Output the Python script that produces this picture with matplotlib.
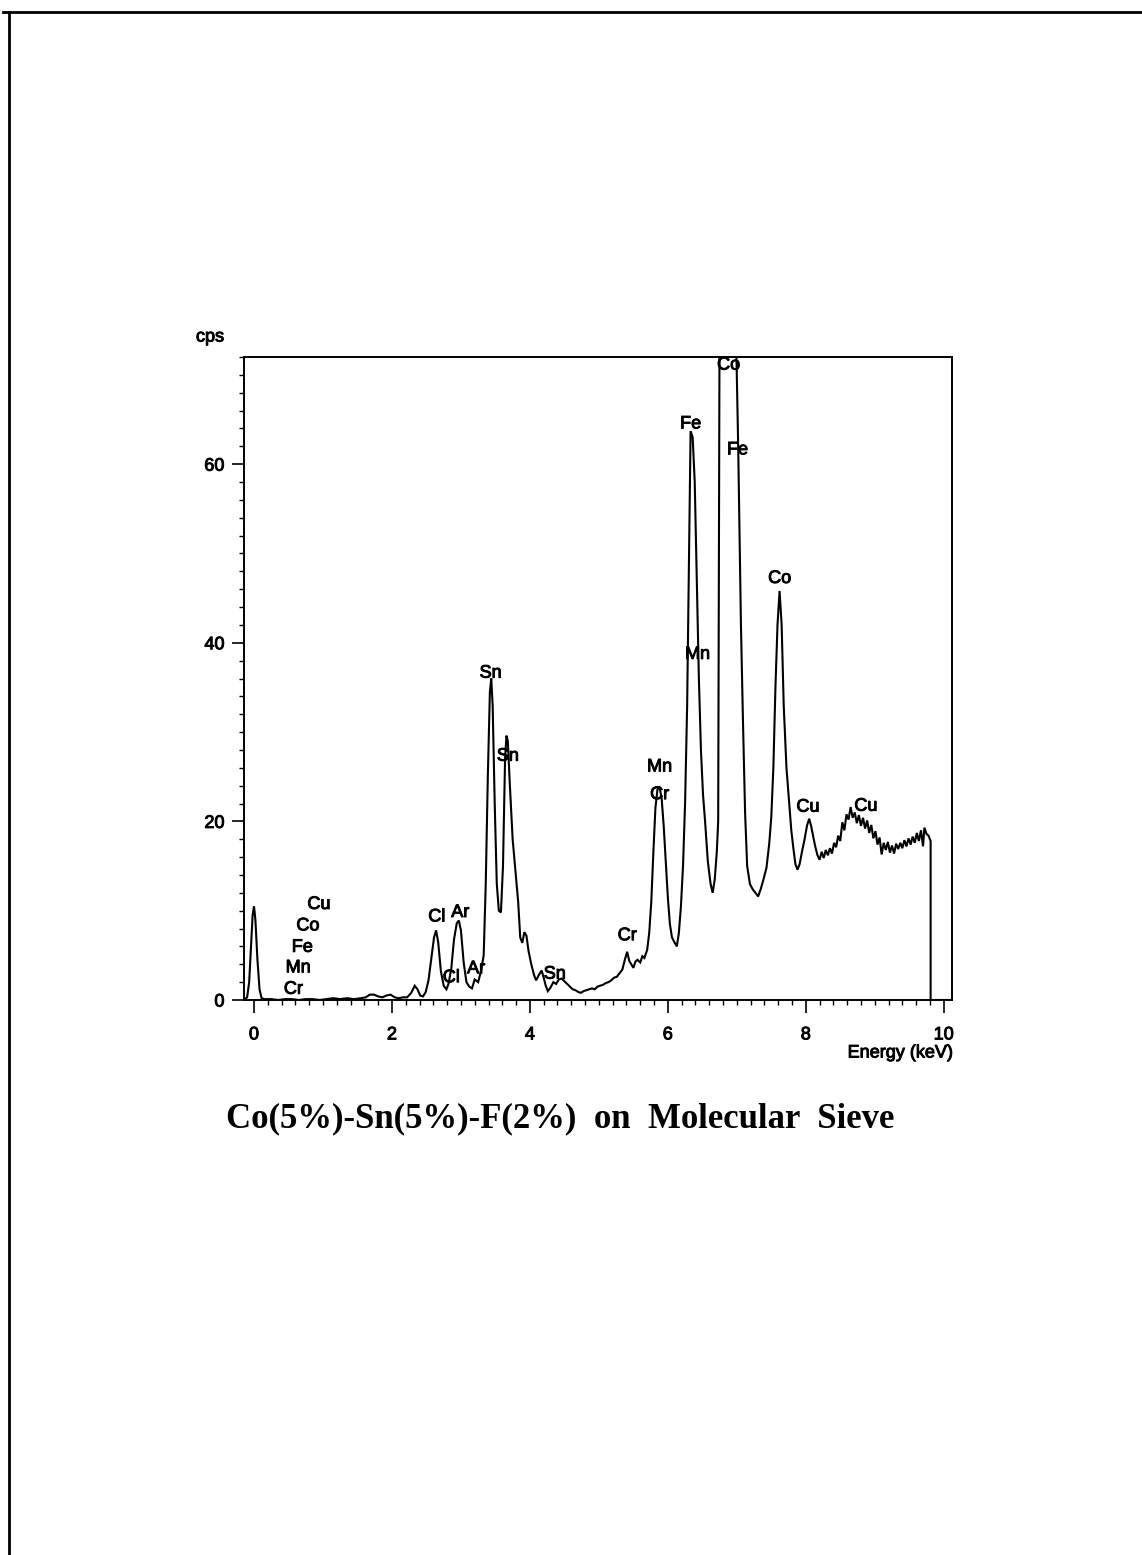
import matplotlib
matplotlib.use("Agg")
import matplotlib.pyplot as plt
import matplotlib.patheffects as pe
from matplotlib.lines import Line2D
from matplotlib.ticker import MultipleLocator

# EDS spectrum: energy (keV) and counts per second
energy_kev = [
    -0.15, -0.10, -0.07, -0.04, -0.02, 0.00, 0.02, 0.05, 0.08, 0.11,
    0.15, 0.25, 0.35, 0.45, 0.55, 0.65, 0.75, 0.85, 0.95, 1.05,
    1.15, 1.25, 1.35, 1.45, 1.55, 1.62, 1.68, 1.74, 1.80, 1.86,
    1.92, 1.98, 2.04, 2.10, 2.16, 2.22, 2.28, 2.33, 2.37, 2.41,
    2.45, 2.49, 2.53, 2.57, 2.61, 2.64, 2.67, 2.71, 2.75, 2.79,
    2.82, 2.86, 2.90, 2.94, 2.97, 3.00, 3.04, 3.08, 3.12, 3.16,
    3.20, 3.25, 3.29, 3.33, 3.36, 3.39, 3.42, 3.44, 3.46, 3.49,
    3.52, 3.55, 3.58, 3.61, 3.64, 3.66, 3.68, 3.71, 3.75, 3.79,
    3.83, 3.86, 3.89, 3.92, 3.95, 3.98, 4.02, 4.06, 4.09, 4.13,
    4.17, 4.20, 4.23, 4.26, 4.30, 4.34, 4.38, 4.42, 4.46, 4.50,
    4.54, 4.58, 4.62, 4.66, 4.70, 4.74, 4.78, 4.82, 4.86, 4.90,
    4.94, 4.98, 5.02, 5.06, 5.10, 5.14, 5.18, 5.22, 5.26, 5.30,
    5.34, 5.38, 5.41, 5.44, 5.47, 5.50, 5.53, 5.56, 5.60, 5.63,
    5.66, 5.70, 5.73, 5.76, 5.79, 5.82, 5.85, 5.88, 5.91, 5.94,
    5.97, 6.00, 6.03, 6.06, 6.10, 6.13, 6.16, 6.19, 6.22, 6.25,
    6.28, 6.31, 6.33, 6.36, 6.39, 6.42, 6.45, 6.48, 6.51, 6.54,
    6.58, 6.62, 6.65, 6.68, 6.71, 6.73, 6.75, 6.80, 6.88, 6.95,
    6.99, 7.02, 7.06, 7.09, 7.12, 7.15, 7.19, 7.23, 7.27, 7.31,
    7.35, 7.39, 7.43, 7.47, 7.50, 7.53, 7.56, 7.59, 7.62, 7.65,
    7.68, 7.72, 7.76, 7.79, 7.82, 7.85, 7.88, 7.91, 7.95, 7.98,
    8.02, 8.05, 8.08, 8.11, 8.14, 8.17, 8.20, 8.23, 8.26, 8.29,
    8.32, 8.35, 8.38, 8.41, 8.44, 8.47, 8.50, 8.53, 8.56, 8.59,
    8.62, 8.65, 8.68, 8.71, 8.74, 8.77, 8.80, 8.83, 8.86, 8.89,
    8.92, 8.95, 8.98, 9.01, 9.04, 9.07, 9.10, 9.13, 9.16, 9.19,
    9.22, 9.25, 9.28, 9.31, 9.34, 9.37, 9.40, 9.43, 9.46, 9.49,
    9.52, 9.55, 9.58, 9.61, 9.64, 9.67, 9.70, 9.72, 9.75, 9.78,
    9.81, 9.81, 10.12,
]
counts_cps = [
    0.0, 0.3, 2.0, 6.5, 9.5, 10.5, 9.0, 4.5, 1.2, 0.2,
    0.1, 0.1, 0.0, 0.1, 0.1, 0.0, 0.1, 0.1, 0.0, 0.1,
    0.2, 0.1, 0.2, 0.1, 0.2, 0.3, 0.6, 0.6, 0.4, 0.3,
    0.5, 0.6, 0.3, 0.2, 0.3, 0.3, 0.8, 1.6, 1.2, 0.5,
    0.4, 0.9, 2.2, 4.6, 7.0, 7.8, 6.5, 3.2, 1.6, 1.2,
    1.8, 3.5, 6.8, 8.6, 8.9, 7.8, 4.2, 2.0, 1.5, 1.3,
    2.3, 2.0, 3.2, 5.0, 13.0, 25.0, 34.5, 36.0, 33.0, 22.0,
    13.0, 10.0, 9.8, 15.0, 27.0, 29.6, 29.0, 24.0, 18.0, 14.5,
    11.0, 7.0, 6.4, 7.6, 7.2, 5.5, 4.0, 2.8, 2.2, 2.8,
    3.3, 2.5, 1.6, 1.0, 1.4, 2.0, 1.8, 2.3, 2.4, 2.1,
    1.8, 1.5, 1.2, 1.1, 0.9, 0.8, 1.0, 1.1, 1.2, 1.3,
    1.2, 1.5, 1.6, 1.7, 1.9, 2.0, 2.2, 2.5, 2.6, 3.0,
    3.4, 4.6, 5.4, 4.4, 4.0, 3.6, 4.3, 4.5, 4.2, 4.9,
    4.7, 5.6, 7.5, 11.0, 16.5, 21.5, 23.6, 23.8, 22.6, 19.5,
    15.5, 11.5, 8.5, 7.0, 6.4, 6.0, 7.5, 10.5, 15.0, 22.0,
    33.0, 52.0, 63.7, 63.0, 58.0, 47.0, 36.0, 28.0, 23.0, 20.0,
    15.5, 13.0, 12.0, 13.5, 16.6, 20.0, 76.0, 92.0, 100.0, 90.0,
    74.0, 62.0, 42.0, 31.0, 21.0, 15.0, 13.0, 12.4, 12.0, 11.6,
    12.5, 13.6, 14.8, 17.5, 20.5, 26.0, 35.0, 42.0, 45.8, 42.0,
    33.0, 26.0, 22.0, 19.0, 17.0, 15.2, 14.6, 15.2, 16.8, 17.9,
    19.6, 20.3, 19.4, 18.2, 17.1, 16.2, 15.7, 16.6, 15.9, 16.8,
    16.2, 17.0, 16.4, 17.6, 17.1, 18.4, 17.8, 19.9, 19.0, 20.8,
    20.2, 21.6, 20.4, 21.0, 19.8, 20.7, 19.5, 20.4, 19.2, 20.1,
    18.7, 19.6, 18.1, 18.9, 17.4, 18.2, 16.3, 17.6, 16.8, 17.7,
    16.5, 17.3, 16.4, 17.5, 16.9, 17.6, 17.0, 17.9, 17.2, 18.1,
    17.4, 18.3, 17.6, 18.7, 17.8, 19.0, 17.2, 19.3, 18.6, 18.4,
    17.8, 0.0, 0.0,
]

# Element identification labels: (text, energy keV, cps)
peak_labels = [
    ("Cu", 0.94, 10.7), ("Co", 0.78, 8.3), ("Fe", 0.70, 5.9),
    ("Mn", 0.64, 3.6), ("Cr", 0.57, 1.2),
    ("Cl", 2.65, 9.3), ("Ar", 2.99, 9.8), ("Cl", 2.86, 2.5), ("Ar", 3.22, 3.5),
    ("Sn", 3.43, 36.6), ("Sn", 3.68, 27.3), ("Sn", 4.36, 2.9),
    ("Cr", 5.41, 7.2), ("Mn", 5.88, 26.1), ("Cr", 5.88, 23.0),
    ("Fe", 6.33, 64.5), ("Co", 6.88, 71.1), ("Fe", 7.01, 61.6),
    ("Mn", 6.43, 38.7), ("Co", 7.62, 47.2),
    ("Cu", 8.03, 21.6), ("Cu", 8.87, 21.7),
]

x_limits = (-0.145, 10.12)
y_limits = (0, 72)
x_major_ticks = [0, 2, 4, 6, 8, 10]
y_major_ticks = [0, 20, 40, 60]

title_text = "Co(5%)-Sn(5%)-F(2%)  on  Molecular  Sieve"

W, H = 1142, 1555
fig = plt.figure(figsize=(W / 100, H / 100), dpi=100)
fig.patch.set_facecolor("white")

sans = "Liberation Sans"
fs = 13
heavy = [pe.withStroke(linewidth=0.7, foreground="black")]

ax = fig.add_axes([244 / W, 1 - 1000 / H, (952 - 244) / W, (1000 - 357) / H])
ax.plot(energy_kev, counts_cps, color="black", lw=1.5, solid_joinstyle="miter")
ax.set_xlim(*x_limits)
ax.set_ylim(*y_limits)

ax.set_xticks(x_major_ticks)
ax.set_yticks(y_major_ticks)
ax.xaxis.set_minor_locator(MultipleLocator(0.2))
ax.yaxis.set_minor_locator(MultipleLocator(2))
ax.tick_params(axis="both", which="major", direction="out", length=9, width=1.2,
               labelsize=fs, color="black")
ax.tick_params(axis="both", which="minor", direction="out", length=3.8, width=1.0)
ax.tick_params(axis="x", which="major", pad=10)
ax.tick_params(axis="y", which="major", pad=5)
for lab in ax.get_xticklabels() + ax.get_yticklabels():
    lab.set_fontfamily(sans)
    lab.set_path_effects(heavy)
for sp in ax.spines.values():
    sp.set_linewidth(1.4)

for txt, ex, cy in peak_labels:
    ax.text(ex, cy, txt, ha="center", va="center", fontsize=fs,
            family=sans, color="black", clip_on=False, path_effects=heavy)

# axis captions
fig.text(210 / W, 1 - 337 / H, "cps", ha="center", va="center",
         fontsize=fs, family=sans, path_effects=heavy)
fig.text(953 / W, 1 - 1053 / H, "Energy (keV)", ha="right", va="center",
         fontsize=fs, family=sans, path_effects=heavy)

# caption under the spectrum
fig.text(560 / W, 1 - 1119 / H, title_text, ha="center", va="center",
         fontsize=25, family="Liberation Serif", fontweight="bold")

# page frame along top and left edges
fig.add_artist(Line2D([3 / W, 1.0], [1 - 12 / H, 1 - 12 / H],
                      transform=fig.transFigure, color="black", lw=2.0))
fig.add_artist(Line2D([9 / W, 9 / W], [1 - 12 / H, 0.0],
                      transform=fig.transFigure, color="black", lw=2.0))

fig.savefig("out.png", dpi=100, facecolor="white")
